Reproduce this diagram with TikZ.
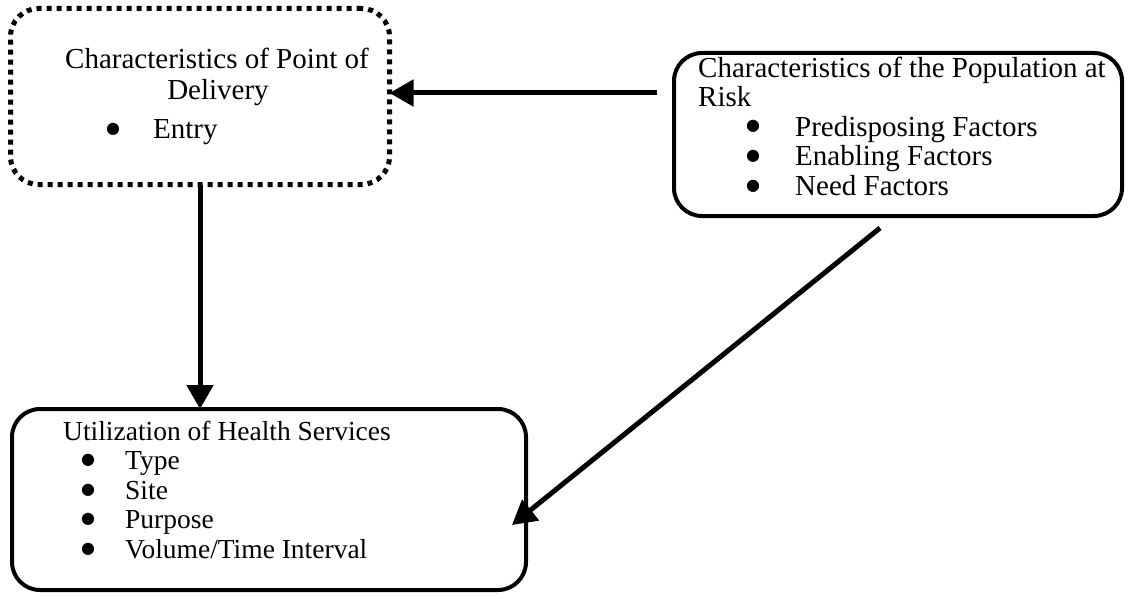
\documentclass[tikz,border=0pt]{standalone}
\usepackage{fontspec}
\setmainfont{Liberation Serif}
\newfontfamily\symf{DejaVu Sans}
\usetikzlibrary{arrows.meta}
\begin{document}
\begin{tikzpicture}[x=1pt,y=-1pt,
  box/.style={draw, line width=4pt, rounded corners=28pt, inner sep=0pt, outer sep=0pt, anchor=north west},
  dotbox/.style={box, line width=5pt, dash pattern=on 5pt off 5pt},
  txt/.style={inner sep=0pt, anchor=base west, text height=0.68em, text depth=0.2em, font=\fontsize{29}{29.5}\selectfont},
  stxt/.style={txt, font=\fontsize{27.5}{29.5}\selectfont},
  ctxt/.style={txt, anchor=base},
  bul/.style={inner sep=0pt, anchor=base, font=\symf\fontsize{16}{16}\selectfont},
  arr/.style={line width=5pt, -{Triangle[length=24pt,width=26pt]}}
]
\useasboundingbox (0,0) rectangle (1132,599);
% boxes
\node[dotbox, minimum width=379pt, minimum height=176pt] (b1) at (10.5,8.5) {};
\node[box, minimum width=448pt, minimum height=163pt] (b2) at (674,53) {};
\node[box, minimum width=514pt, minimum height=181pt] (b3) at (12,409) {};
% box 1 text
\node[ctxt] (t11) at (217,69) {Characteristics of Point of};
\node[ctxt] (t12) at (218,100) {Delivery};
\node[bul] (u11) at (113,134) {●};
\node[txt] (t13) at (153,139) {Entry};
% box 2 text
\node[txt] (t21) at (698,78) {Characteristics of the Population at};
\node[txt] (t22) at (698,107) {Risk};
\node[bul] (u21) at (753,131) {●};
\node[txt] (t23) at (795,136) {Predisposing Factors};
\node[bul] (u22) at (753,160.5) {●};
\node[txt] (t24) at (795,165.5) {Enabling Factors};
\node[bul] (u23) at (753,190) {●};
\node[txt] (t25) at (795,195) {Need Factors};
% box 3 text
\node[stxt] (t31) at (63,440) {Utilization of Health Services};
\node[bul] (u31) at (88,464.5) {●};
\node[stxt] (t32) at (125,469.5) {Type};
\node[bul] (u32) at (88,494) {●};
\node[stxt] (t33) at (125,499) {Site};
\node[bul] (u33) at (88,523.5) {●};
\node[stxt] (t34) at (125,528.5) {Purpose};
\node[bul] (u34) at (88,553) {●};
\node[stxt] (t35) at (125,558) {Volume/Time Interval};
% connectors
\coordinate (a1s) at (657,93);
\coordinate (a3s) at (880,228);
\coordinate (a3e) at (512,525);
\draw[arr] (a1s) -- (b1.east |- a1s);
\draw[arr] (b1.south) -- (b1.south |- b3.north);
\draw[arr] (a3s) -- (a3e);
\end{tikzpicture}
\end{document}
